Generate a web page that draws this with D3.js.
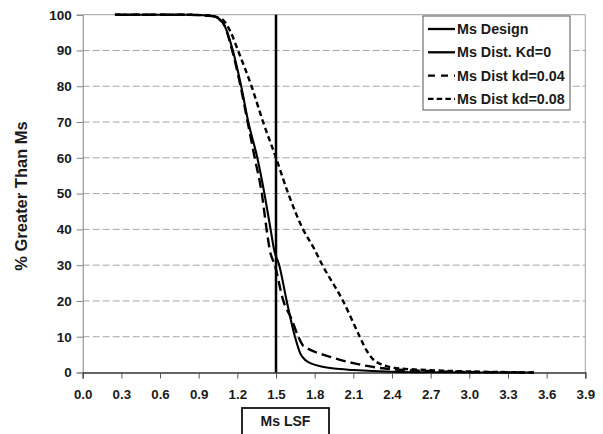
<!DOCTYPE html>
<html><head><meta charset="utf-8">
<script src="https://cdn.jsdelivr.net/npm/d3@7"></script>
<style>
body{margin:0;background:#fff;}
text{font-family:"Liberation Sans",Arial,sans-serif;font-weight:bold;fill:#1a1a1a;}
</style></head>
<body>
<svg id="c" width="603" height="434"></svg>
<script>
// ---- data ----
const xTicks = [0,0.3,0.6,0.9,1.2,1.5,1.8,2.1,2.4,2.7,3.0,3.3,3.6,3.9];
const yTicks = [0,10,20,30,40,50,60,70,80,90,100];

const designX = [1.5, 1.5];
const designY = [0, 100];

const kd0X = [0.25,0.5,0.8,1.0,1.05,1.1,1.165,1.23,1.285,1.355,1.41,1.458,1.487,1.525,1.583,1.647,1.69,1.73,1.78,1.85,1.95,2.1,2.4,2.7,3.0,3.5];
const kd0Y = [100,100,100,99.7,99,97,90,80,70,60,50,40,34,30,20,10,5.2,3.4,2.4,1.7,1.1,0.7,0.2,0.05,0,0];

const kd04X = [0.25,0.5,0.8,1.0,1.05,1.1,1.16,1.225,1.28,1.335,1.39,1.427,1.453,1.491,1.557,1.62,1.673,1.71,1.74,1.8,1.9,2.1,2.4,2.7,3.0,3.5];
const kd04Y = [100,100,100,99.6,99,97,90,80,70,60,50,40,34,30,20,15,10,7.5,6.8,5.8,4.6,2.6,0.9,0.4,0.15,0];

const kd08X = [0.25,0.5,0.8,1.0,1.05,1.09,1.15,1.205,1.31,1.40,1.50,1.595,1.71,1.79,1.86,2.02,2.15,2.2,2.25,2.33,2.42,2.6,2.8,3.0,3.3,3.5];
const kd08Y = [100,100,100,99.7,99.2,98.5,95,90,80,70,60,50,40,35,30,20,10,6.3,3.8,2.1,1.3,0.8,0.5,0.3,0.1,0];

const legendLabels = ["Ms Design","Ms Dist. Kd=0","Ms Dist kd=0.04","Ms Dist kd=0.08"];
const yTitle = "% Greater Than Ms";
const xTitle = "Ms LSF";

// ---- chart ----
const svg = d3.select("#c");
const x = d3.scaleLinear().domain([0,3.9]).range([82.7,585.3]);
const y = d3.scaleLinear().domain([0,100]).range([372.5,14.7]);

// gridlines
svg.append("g").selectAll("line").data(yTicks.filter(v=>v>0 && v<100)).join("line")
  .attr("x1",x(0)).attr("x2",x(3.9)).attr("y1",d=>y(d)).attr("y2",d=>y(d))
  .attr("stroke","#a6a6a6").attr("stroke-width",1).attr("stroke-dasharray","7,3");
// top & right border
svg.append("line").attr("x1",x(0)).attr("x2",x(3.9)).attr("y1",y(100)).attr("y2",y(100)).attr("stroke","#a0a0a0");
svg.append("line").attr("x1",x(3.9)).attr("x2",x(3.9)).attr("y1",y(100)).attr("y2",y(0)).attr("stroke","#a0a0a0");

// axes
const yAxis = svg.append("g").attr("transform",`translate(${x(0)},0)`)
  .call(d3.axisLeft(y).tickValues(yTicks).tickSize(6).tickPadding(5).tickFormat(d3.format("d")));
yAxis.select(".domain").attr("stroke","#808080");
yAxis.selectAll(".tick line").attr("stroke","#808080");
yAxis.selectAll("text").style("font-size","13.5px");

const xAxis = svg.append("g").attr("transform",`translate(0,${y(0)})`)
  .call(d3.axisBottom(x).tickValues(xTicks).tickSize(6).tickPadding(11).tickFormat(d3.format(".1f")));
xAxis.select(".domain").attr("stroke","#333").attr("stroke-width",1.3);
xAxis.selectAll(".tick line").attr("stroke","#555");
xAxis.selectAll("text").style("font-size","13.3px");

// series
const line = d3.line().x(d=>x(d[0])).y(d=>y(d[1])).curve(d3.curveMonotoneX);
const lin = d3.line().x(d=>x(d[0])).y(d=>y(d[1]));
const zip = (a,b)=>a.map((v,i)=>[v,b[i]]);

svg.append("path").attr("d",lin(zip(designX,designY))).attr("fill","none").attr("stroke","#000").attr("stroke-width",2.5);
svg.append("path").attr("d",line(zip(kd08X,kd08Y))).attr("fill","none").attr("stroke","#000").attr("stroke-width",2.4).attr("stroke-dasharray","5.5,3.5");
svg.append("path").attr("d",line(zip(kd04X,kd04Y))).attr("fill","none").attr("stroke","#000").attr("stroke-width",2.4).attr("stroke-dasharray","10,5");
svg.append("path").attr("d",line(zip(kd0X,kd0Y))).attr("fill","none").attr("stroke","#000").attr("stroke-width",2.1);

// legend
const lg = svg.append("g");
lg.append("rect").attr("x",423).attr("y",16).attr("width",147).attr("height",94)
  .attr("fill","#fff").attr("stroke","#555").attr("stroke-width",1);
const dashes = [null,null,"7,6","5.5,3.2"];
legendLabels.forEach((t,i)=>{
  const yy = 29 + i*23.3;
  lg.append("line").attr("x1",428).attr("x2",455).attr("y1",yy).attr("y2",yy)
    .attr("stroke","#000").attr("stroke-width",2.3).attr("stroke-dasharray",dashes[i]);
  lg.append("text").attr("x",457).attr("y",yy).attr("dy","0.36em")
    .style("font-size","14.3px").text(t);
});

// y title
svg.append("text").attr("transform","translate(27,196) rotate(-90)")
  .attr("text-anchor","middle").style("font-size","16.5px").text(yTitle);

// x title box
svg.append("rect").attr("x",242).attr("y",408).attr("width",87).attr("height",40)
  .attr("fill","#fff").attr("stroke","#111").attr("stroke-width",1.8);
svg.append("text").attr("x",285.5).attr("y",425.5).attr("text-anchor","middle")
  .style("font-size","14px").text(xTitle);
</script>
</body></html>
